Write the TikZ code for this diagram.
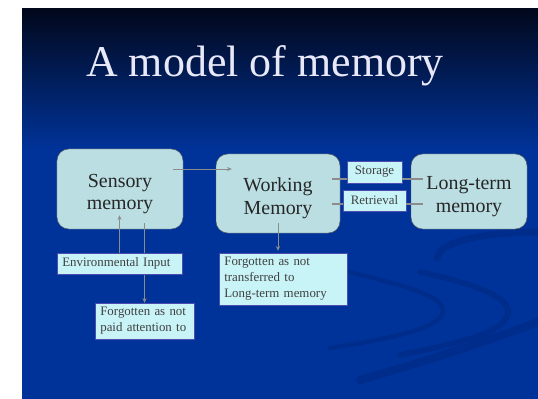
\documentclass[tikz,border=0pt]{standalone}
\usepackage{fontspec}
\setmainfont{Liberation Serif}
\usetikzlibrary{positioning, arrows.meta, calc}
\definecolor{slideblue}{RGB}{0,51,153}
\definecolor{slidetop}{RGB}{2,8,28}
\definecolor{boxteal}{RGB}{186,222,226}
\definecolor{notecyan}{RGB}{200,244,248}
\definecolor{titlelav}{RGB}{232,232,248}
\definecolor{linegray}{RGB}{140,140,140}
\definecolor{swooshblue}{RGB}{0,36,120}

\begin{document}
\begin{tikzpicture}[
			x=0.03cm, y=-0.03cm,
			>=Stealth,
			membox/.style={
				draw=gray!70!black, fill=boxteal, rounded corners=10pt,
				align=center, inner sep=2pt, text=black!85,
				font=\fontsize{17}{19}\selectfont
			},
			notebox/.style={
				draw=gray!60!blue, fill=notecyan, align=left,
				inner xsep=4.5pt, inner ysep=1pt, text=black!75,
				font=\fontsize{11}{13.6}\selectfont
			},
			link/.style={draw=linegray, line width=2pt},
			flow/.style={draw=linegray, line width=0.8pt, -{Stealth[length=4pt, width=3.5pt]}},
			swoosh/.style={draw=swooshblue, opacity=0.4, line cap=round}
			]
			\useasboundingbox (0,0) rectangle (538,399);
			
			% 1. SLIDE BACKGROUND
			\fill[white] (0,0) rectangle (538,399);
			\shade[top color=slidetop, bottom color=slideblue] (22,9) rectangle (538,150);
			\fill[slideblue] (22,149.5) rectangle (538,399);
			\draw[swoosh, line width=6pt] (437,258) .. controls (440,240) and (490,232) .. (538,232);
			\draw[swoosh, line width=4pt] (350,272) .. controls (400,285) and (445,295) .. (443,312)
			.. controls (440,330) and (380,340) .. (330,348);
			\draw[swoosh, line width=5pt] (420,272) .. controls (480,285) and (520,300) .. (505,320)
			.. controls (495,335) and (450,345) .. (400,355);
			\draw[swoosh, line width=7pt] (360,380) .. controls (430,360) and (490,340) .. (538,322);
			
			% 2. TITLE
			\node[anchor=base, text=titlelav, font=\fontsize{37.5}{40}\selectfont] (title) at (265,77) {A model of memory};
			
			% 3. MEMORY STORES
			\node[membox, minimum width=3.78cm, minimum height=2.4cm] (sens) at (120,189) {\rule{0pt}{20pt}Sensory\\memory};
			\node[membox, minimum width=3.72cm, minimum height=2.37cm] (work) at (278,193.5) {\rule{0pt}{20pt}Working\\Memory};
			\node[membox, minimum width=3.48cm, minimum height=2.25cm] (ltm) at (469,191.5) {\rule{0pt}{20pt}Long-term\\memory};
			
			% 4. STORAGE / RETRIEVAL
			\node[notebox, minimum width=1.65cm, minimum height=0.66cm, align=center] (stor) at (374.5,172) {Storage};
			\node[notebox, minimum width=1.89cm, minimum height=0.63cm, align=center] (retr) at (374.5,200.5) {Retrieval};
			\draw[link] ([xshift=-0.24cm, yshift=0.43cm]work.east) coordinate (w1) -- (w1 -| stor.west);
			\draw[link] (w1 -| stor.east) -- ([xshift=0.36cm]w1 -| ltm.west);
			\draw[link] ([xshift=-0.24cm, yshift=-0.32cm]work.east) coordinate (w2) -- (w2 -| retr.west);
			\draw[link] (w2 -| retr.east) -- ([xshift=0.36cm]w2 -| ltm.west);
			
			\draw[flow] ([xshift=-0.3cm, yshift=0.6cm]sens.east) coordinate (s1) -- ([xshift=0.48cm]s1 -| work.west);
			
			% 5. INPUT AND FORGETTING
			\node[notebox, text width=2.65cm, minimum height=1.08cm] (fpaid) at (144.5,321) {Forgotten as not\\paid attention to};
			\draw[flow] ([yshift=0.18cm]fpaid.north |- sens.south) -- (fpaid.north);
			\node[notebox, text width=3.43cm, minimum height=0.63cm] (env) at (119.5,263.5) {Environmental Input};
			\draw[flow] (env.north) -- ([yshift=0.42cm]env.north |- sens.south);
			
			\node[notebox, text width=3.52cm, minimum height=1.56cm] (ftrans) at (283,279) {Forgotten as not\\transferred to\\Long-term memory};
			\draw[flow] ([yshift=0.3cm]work.south) -- ([yshift=0.06cm]work.south |- ftrans.north);
		\end{tikzpicture}
\end{document}
